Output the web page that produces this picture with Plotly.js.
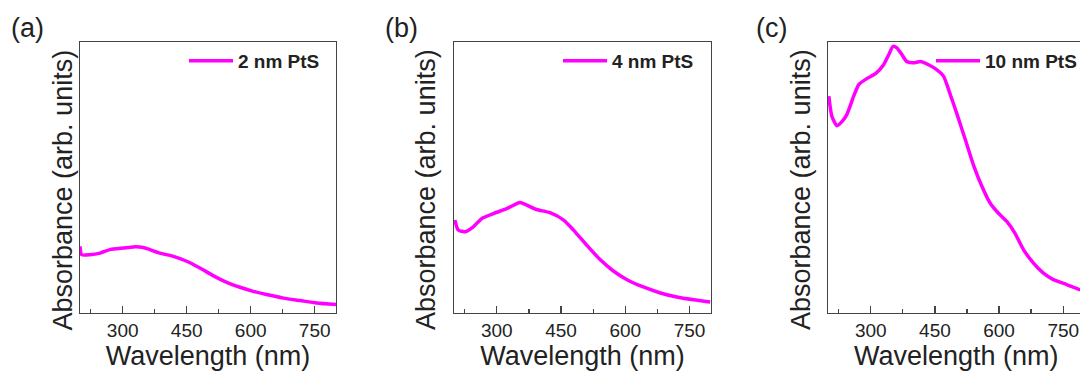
<!DOCTYPE html>
<html>
<head>
<meta charset="utf-8">
<script src="https://cdn.plot.ly/plotly-3.0.1.min.js"></script>
<style>
html,body{margin:0;padding:0;overflow:hidden;background:#fff;}
#chart{width:1088px;height:373px;}
</style>
</head>
<body>
<div id="chart"></div>
<script>
// Wavelength (nm) and absorbance (arb. units, fraction of axis height)
const wlA = [200,204,223,247,270,302,325,348,364,387,419,450,481,512,544,575,606,637,677,716,755,800];
const absA = [0.246,0.215,0.215,0.221,0.234,0.240,0.244,0.242,0.234,0.221,0.209,0.191,0.166,0.138,0.113,0.095,0.080,0.068,0.055,0.046,0.037,0.031];

const wlB = [202,210,226,245,265,292,323,354,370,393,424,456,479,510,541,572,604,642,682,720,759,798];
const absB = [0.343,0.306,0.300,0.318,0.349,0.367,0.385,0.408,0.398,0.382,0.370,0.343,0.306,0.250,0.197,0.155,0.123,0.096,0.074,0.059,0.049,0.041];

const wlC = [202,209,221,233,244,260,272,291,311,330,342,352,361,373,384,400,416,435,454,470,486,502,521,541,560,579,598,618,637,657,680,703,727,758,789,800];
const absC = [0.800,0.726,0.691,0.707,0.732,0.800,0.843,0.865,0.883,0.916,0.953,0.984,0.978,0.953,0.928,0.923,0.928,0.916,0.898,0.874,0.806,0.732,0.640,0.542,0.467,0.406,0.369,0.338,0.295,0.234,0.185,0.148,0.123,0.105,0.086,0.082];

const seriesNames = ['2 nm PtS','4 nm PtS','10 nm PtS'];
const panelLabels = ['(a)','(b)','(c)'];
const xTickVals = [300,450,600,750];
const xTickText = ['300','450','600','750'];
const xTitle = 'Wavelength (nm)';
const yTitle = 'Absorbance (arb. units)';

const W = 1088, H = 373;
const col = '#ff00ff';
const FONT = 'Liberation Sans, Arial, sans-serif';

const data = [
  {x: wlA, y: absA, name: seriesNames[0], xaxis:'x', yaxis:'y', legend:'legend'},
  {x: wlB, y: absB, name: seriesNames[1], xaxis:'x2', yaxis:'y2', legend:'legend2'},
  {x: wlC, y: absC, name: seriesNames[2], xaxis:'x3', yaxis:'y3', legend:'legend3'}
].map(t => Object.assign(t, {type:'scatter', mode:'lines', showlegend:true,
  line:{color:col, width:3.5, shape:'spline', smoothing:0.6}}));

const plotL = [80, 454, 828], plotR = [336, 711, 1084.6];
const plotT = 42, plotB = 313;
const yDom = [1 - plotB/H, 1 - plotT/H];
const yTitleX = [62.5, 426, 801];
const labelX = [9, 383, 754];
const legendDX = [104, 104, 103];

function xa(i){
  return {
    domain:[plotL[i]/W, plotR[i]/W], range:[200,800], anchor: i===0?'y':'y'+(i+1),
    showline:true, mirror:true, linecolor:'#444', linewidth:1.3,
    ticks:'inside', ticklen:7, tickwidth:1.3, tickcolor:'#444',
    tickvals: xTickVals, ticktext: xTickText,
    minor:{ticks:'inside', ticklen:4, tickwidth:1.3, tickcolor:'#444', tick0:225, dtick:75},
    showgrid:false, zeroline:false,
    tickfont:{family:FONT, size:19, color:'#222'},
    title:{text:xTitle, font:{family:FONT, size:27, color:'#222'}, standoff:5},
    automargin:false, fixedrange:true
  };
}
function ya(i){
  return {
    domain:yDom, range:[0,1], anchor: i===0?'x':'x'+(i+1),
    showline:true, mirror:true, linecolor:'#444', linewidth:1.3,
    ticks:'', showticklabels:false, showgrid:false, zeroline:false,
    automargin:false, fixedrange:true
  };
}
function lg(i){
  return {x:(plotL[i]+legendDX[i])/W, y:1-61/H, xanchor:'left', yanchor:'middle',
    bgcolor:'rgba(0,0,0,0)', borderwidth:0,
    font:{family:FONT, size:19, color:'#222', weight:'bold'}, itemwidth:44};
}

const annotations = [];
panelLabels.forEach((t,i)=>annotations.push({text:t, xref:'paper', yref:'paper',
  x:labelX[i]/W, y:1-28/H, xanchor:'left', yanchor:'middle', showarrow:false,
  font:{family:FONT, size:27, color:'#222'}}));
yTitleX.forEach((xx,i)=>annotations.push({text:yTitle, xref:'paper', yref:'paper',
  x:xx/W, y:1-190/H, xanchor:'center', yanchor:'middle', textangle:-90, showarrow:false,
  font:{family:FONT, size:27, color:'#222'}}));

const layout = {
  width:W, height:H, margin:{l:0,r:0,t:0,b:0},
  paper_bgcolor:'#fff', plot_bgcolor:'#fff',
  xaxis:xa(0), xaxis2:xa(1), xaxis3:xa(2),
  yaxis:ya(0), yaxis2:ya(1), yaxis3:ya(2),
  legend:lg(0), legend2:lg(1), legend3:lg(2),
  annotations: annotations
};

Plotly.newPlot('chart', data, layout, {staticPlot:true, displayModeBar:false});
</script>
</body>
</html>
